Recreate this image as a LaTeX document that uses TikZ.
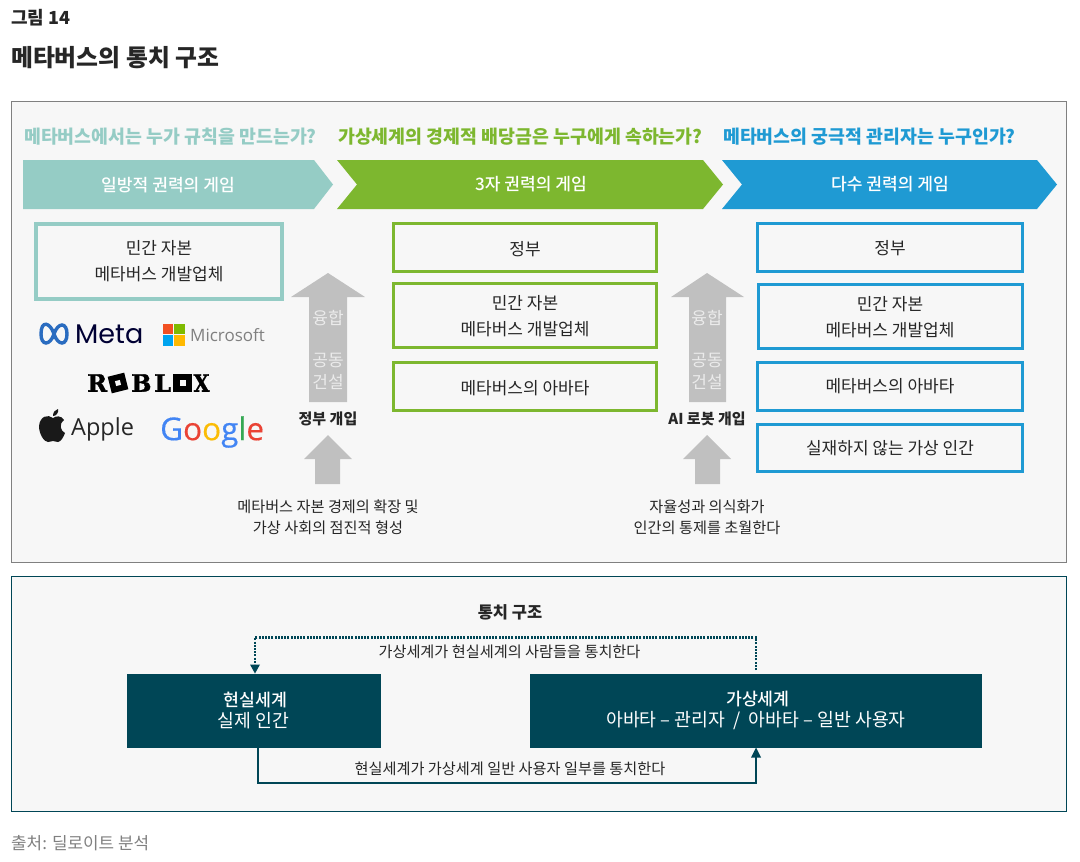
\documentclass[tikz,border=0pt]{standalone}
\usepackage{fontspec}
\setmainfont{Noto Sans CJK KR}
\newfontfamily\medf{Noto Sans CJK KR Medium}
\newfontfamily\logoA{Poppins}
\newfontfamily\logoB{Open Sans}
\newfontfamily\logoC[BoldFeatures={FakeBold=1.5}]{DejaVu Serif}
\definecolor{tealc}{HTML}{95CCC5}
\definecolor{greenc}{HTML}{7DB72F}
\definecolor{bluec}{HTML}{1F9AD3}
\definecolor{darkc}{HTML}{004656}
\definecolor{panelc}{HTML}{F7F7F7}
\definecolor{arrowc}{HTML}{C0C0C0}
\definecolor{textc}{HTML}{262626}
\definecolor{gblue}{HTML}{4285F4}
\definecolor{gred}{HTML}{EA4335}
\definecolor{gyel}{HTML}{FBBC05}
\definecolor{ggreen}{HTML}{34A853}
\definecolor{metab}{HTML}{2A6CC0}
\definecolor{msr}{HTML}{F25022}
\definecolor{msg}{HTML}{7FBA00}
\definecolor{msb}{HTML}{00A4EF}
\definecolor{msy}{HTML}{FFB900}
\newcommand{\fs}[1]{\fontsize{#1}{#1}\selectfont}
\tikzset{
 x=1pt,y=-1pt,
 txt/.style={font=\fs{17},text=textc,align=center,inner sep=0pt},
 lbl/.style={font=\fs{15.2},text=textc,align=center,inner sep=0pt},
 head/.style={font=\bfseries\fs{18.35},anchor=west,inner sep=0pt},
 chev/.style={font=\medf\fs{17.1},text=white,inner sep=0pt},
 tealbox/.style={draw=tealc,line width=4pt,fill=panelc},
 greenbox/.style={draw=greenc,line width=3pt,fill=panelc},
 bluebox/.style={draw=bluec,line width=3pt,fill=panelc},
 bigup/.style={fill=arrowc},
 grey/.style={font=\fs{17},text=white!92!black,align=center,inner sep=0pt},
 dark/.style={fill=darkc,text=white,font=\fs{18.3},align=center,inner sep=0pt},
 conn/.style={draw=darkc,line width=1.6pt},
 dots/.style={draw=darkc,line width=2.6pt,dash pattern=on 2pt off 1.2pt},
 tip/.style={fill=darkc},
 rbx/.style={font=\logoC\bfseries\fs{24},text=black,anchor=west,inner sep=0pt},
}
\begin{document}
\begin{tikzpicture}
\useasboundingbox (0,0) rectangle (1080,862);
\fill[white] (0,0) rectangle (1080,862);
% header
\node[font=\bfseries\fs{18},text=textc,anchor=west,inner sep=0pt] (fig) at (11,18) {그림 14};
\node[font=\bfseries\fs{23.8},text=textc,anchor=west,inner sep=0pt] (title) at (11,58) {메타버스의 통치 구조};
% panels
\draw[fill=panelc,draw=gray,line width=1pt] (11.5,101.5) rectangle (1066.5,562);
\draw[fill=panelc,draw=darkc,line width=1pt] (11.5,576.5) rectangle (1066.5,811);
% questions
\node[head,text=tealc] (q1) at (24,137) {메타버스에서는 누가 규칙을 만드는가?};
\node[head,text=greenc] (q2) at (338,137) {가상세계의 경제적 배당금은 누구에게 속하는가?};
\node[head,text=bluec] (q3) at (723,137) {메타버스의 궁극적 관리자는 누구인가?};
% chevrons
\fill[tealc] (23,160)--(314,160)--(333,184.5)--(314,209)--(23,209)--cycle;
\fill[greenc] (337,160)--(703,160)--(723,184.5)--(703,209)--(337,209)--(357,184.5)--cycle;
\fill[bluec] (722,160)--(1037,160)--(1057,184.5)--(1037,209)--(722,209)--(742,184.5)--cycle;
\node[chev] (c1) at (168,185) {일방적 권력의 게임};
\node[chev] (c2) at (531,184) {3자 권력의 게임};
\node[chev] (c3) at (890,184) {다수 권력의 게임};
% boxes
\draw[tealbox] (36,224) rectangle (282,299);
\node[txt] (b1) at (159,261) {민간 자본\\[9pt]메타버스 개발업체};
\draw[greenbox] (393.5,223.5) rectangle (656.5,271.5);
\node[txt] (g1) at (525,249) {정부};
\draw[greenbox] (393.5,283.5) rectangle (656.5,347.5);
\node[txt] (g2) at (525,316.5) {민간 자본\\[9pt]메타버스 개발업체};
\draw[greenbox] (393.5,362.5) rectangle (656.5,410.5);
\node[txt] (g3) at (525,388) {메타버스의 아바타};
\draw[bluebox] (757.5,223.5) rectangle (1022.5,271.5);
\node[txt] (l1) at (890,248) {정부};
\draw[bluebox] (758.5,284.5) rectangle (1022.5,348.5);
\node[txt] (l2) at (890,317.5) {민간 자본\\[9pt]메타버스 개발업체};
\draw[bluebox] (757.5,362.5) rectangle (1022.5,410.5);
\node[txt] (l3) at (890,386) {메타버스의 아바타};
\draw[bluebox] (757.5,424.5) rectangle (1022.5,471.5);
\node[txt] (l4) at (890,448) {실재하지 않는 가상 인간};
% grey arrows left
\fill[bigup] (328,273)--(365,297)--(347,297)--(347,402)--(309,402)--(309,297)--(291,297)--cycle;
\node[grey] (a1) at (328,318) {융합};
\node[grey] (a2) at (328,371) {공동\\[5pt]건설};
\node[font=\bfseries\fs{15},text=textc,inner sep=0pt] (e1) at (328,419) {정부 개입};
\fill[bigup] (328,435)--(352,459)--(340,459)--(340,484)--(315,484)--(315,459)--(304,459)--cycle;
\node[lbl] (d1) at (328,517.5) {메타버스 자본 경제의 확장 및\\[6pt]가상 사회의 점진적 형성};
% grey arrows right
\fill[bigup] (707,273)--(744,297)--(726,297)--(726,402)--(689,402)--(689,297)--(671,297)--cycle;
\node[grey] (a3) at (707,318) {융합};
\node[grey] (a4) at (707,371) {공동\\[5pt]건설};
\node[font=\bfseries\fs{15},text=textc,inner sep=0pt] (e2) at (707,419) {AI 로봇 개입};
\fill[bigup] (707,435)--(731,459)--(720,459)--(720,484)--(695,484)--(695,459)--(683,459)--cycle;
\node[lbl] (d2) at (707,517.5) {자율성과 의식화가\\[6pt]인간의 통제를 초월한다};
% logos
\draw[color=metab,line width=3.4pt] (41,334) .. controls (41,320) and (50,322) .. (54,334) .. controls (58,346) and (67,346) .. (67,334) .. controls (67,322) and (58,322) .. (54,334) .. controls (50,346) and (41,346) .. (41,334);
\node[font=\logoA\fs{27},text=black!80!blue,anchor=west,inner sep=0pt] (meta) at (75,334) {Meta};
\fill[msr] (163,324) rectangle (173,334);
\fill[msg] (174,324) rectangle (184.5,334);
\fill[msb] (163,335) rectangle (173,346);
\fill[msy] (174,335) rectangle (184.5,346);
\node[font=\logoB\fs{17},text=gray,anchor=west,inner sep=0pt] (ms) at (190,335) {Microsoft};
% roblox
\node[rbx] (rb1) at (87,383) {R};
\begin{scope}[shift={(118,383)},rotate=14]
\fill[black] (-8.5,-8.5) rectangle (8.5,8.5);
\fill[panelc] (-2.5,-2.5) rectangle (2.5,2.5);
\end{scope}
\node[rbx] (rb2) at (131,383) {B};
\node[rbx] (rb3) at (154,383) {L};
\fill[black] (173,374) rectangle (192,392);
\fill[panelc] (179.5,380) rectangle (185.5,386);
\node[rbx,xscale=0.85,anchor=center] (rb4) at (201.5,383) {X};
% apple
\fill[black!90] (53,418) .. controls (48,414) and (40,416) .. (39,426) .. controls (39,434) and (44,442) .. (48,442) .. controls (50,442) and (51,441) .. (53,441) .. controls (55,441) and (56,442) .. (58,442) .. controls (61,442) and (64,436) .. (65,433) .. controls (60,431) and (59,423) .. (64,420) .. controls (61,415) and (56,416) .. (53,418) -- cycle;
\fill[black!90] (53,416) .. controls (53,412) and (55,410) .. (58,409) .. controls (59,413) and (56,416) .. (53,416) -- cycle;
\node[font=\logoB\fs{23.5},text=black!85,anchor=west,inner sep=0pt] (apple) at (71,429) {Apple};
% google
\node[font=\logoB\fs{31.5},anchor=west,inner sep=0pt] (google) at (160,432) {\addfontfeature{FakeBold=0.4}\textcolor{gblue}{G}\textcolor{gred}{o}\textcolor{gyel}{o}\textcolor{gblue}{g}\textcolor{ggreen}{l}\textcolor{gred}{e}};
% lower
\node[font=\bfseries\fs{16.5},text=textc,inner sep=0pt] (gov) at (510,612) {통치 구조};
\node[dark,minimum width=254pt,minimum height=74pt] (real) at (253.5,710.5) {{\medf\fs{17.3} 현실세계}\\[3pt]실제 인간};
\node[dark,minimum width=452pt,minimum height=74pt] (virt) at (756,710.5) {{\medf\fs{17.3} 가상세계}\\[3pt]아바타 – 관리자 \ / \ 아바타 – 일반 사용자};
\coordinate (rt) at (255,673.5);
\coordinate (vt) at (756,670);
\coordinate (rb) at (258,747.5);
\coordinate (vb) at (756,747.5);
\draw[dots] (vt) -- (756,637.5) -- (255,637.5) -- (255,664);
\fill[tip] (rt) -- ++(-5,-9) -- ++(10,0) -- cycle;
\draw[conn] (rb) -- (258,783) -- (756,783) -- (756,756);
\fill[tip] (vb) -- ++(-5,10) -- ++(10,0) -- cycle;
\node[lbl] (t1) at (509.5,652) {가상세계가 현실세계의 사람들을 통치한다};
\node[lbl] (t2) at (510,769) {현실세계가 가상세계 일반 사용자 일부를 통치한다};
\node[font=\fs{16.9},text=gray,anchor=west,inner sep=0pt] (src) at (11,843) {출처: 딜로이트 분석};
\end{tikzpicture}
\end{document}
